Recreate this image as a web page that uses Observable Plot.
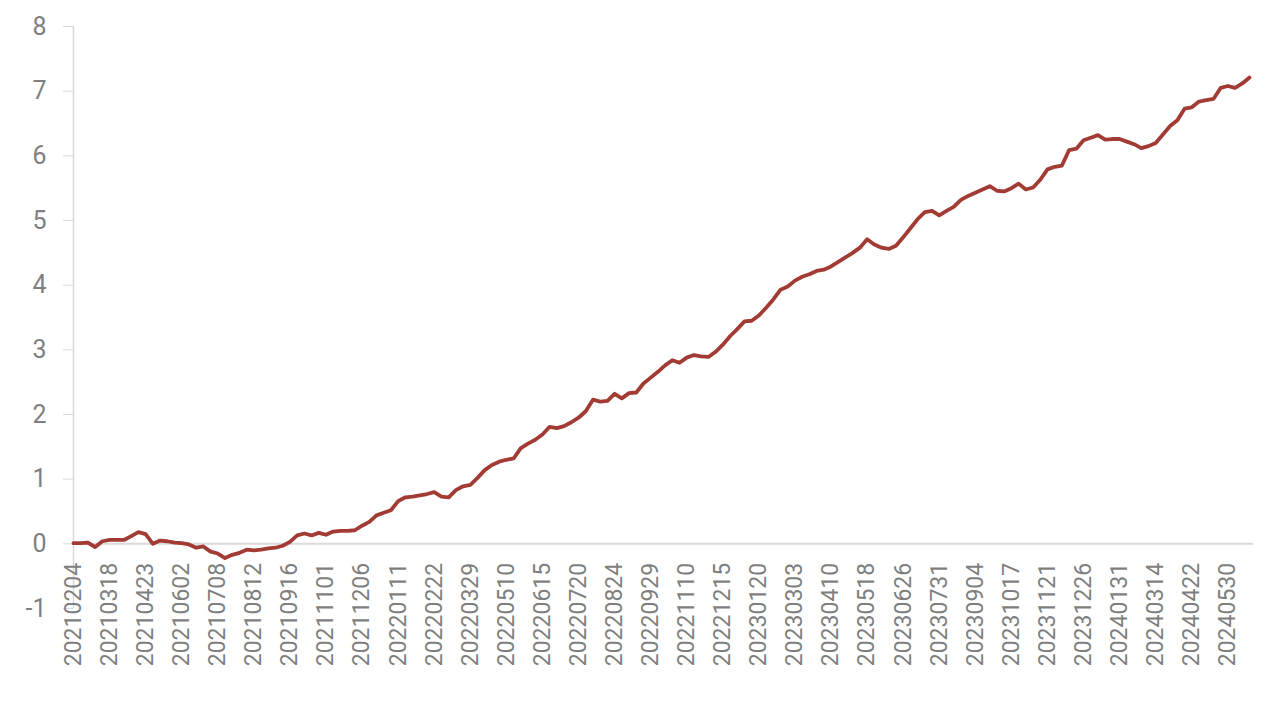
<!DOCTYPE html>
<html>
<head>
<meta charset="utf-8">
<script src="https://cdn.jsdelivr.net/npm/d3@7"></script>
<script src="https://cdn.jsdelivr.net/npm/@observablehq/plot@0.6"></script>
<style>
  html, body { margin: 0; padding: 0; background: #fff; }
  #chart { width: 1272px; height: 705px; }
</style>
</head>
<body>
<div id="chart"></div>
<script>
// Tick labels (every 5th observation)
const tickLabels = [
  "20210204","20210318","20210423","20210602","20210708","20210812","20210916",
  "20211101","20211206","20220111","20220222","20220329","20220510","20220615",
  "20220720","20220824","20220929","20221110","20221215","20230120","20230303",
  "20230410","20230518","20230626","20230731","20230904","20231017","20231121",
  "20231226","20240131","20240314","20240422","20240530"
];
const labelStep = 5;

// Series values
const values = [
  0.01, 0.01, 0.02, -0.05, 0.04, 0.06, 0.06, 0.06, 0.12, 0.18,
  0.15, 0.00, 0.05, 0.04, 0.02, 0.01, -0.01, -0.06, -0.04, -0.12,
  -0.15, -0.22, -0.17, -0.14, -0.09, -0.10, -0.09, -0.07, -0.06, -0.03,
  0.03, 0.13, 0.16, 0.13, 0.17, 0.14, 0.19, 0.20, 0.20, 0.21,
  0.28, 0.34, 0.44, 0.48, 0.52, 0.66, 0.72, 0.73, 0.75, 0.77,
  0.80, 0.73, 0.72, 0.83, 0.89, 0.91, 1.02, 1.14, 1.22, 1.27,
  1.30, 1.32, 1.48, 1.55, 1.61, 1.69, 1.81, 1.79, 1.82, 1.88,
  1.95, 2.05, 2.23, 2.20, 2.21, 2.32, 2.25, 2.33, 2.34, 2.48,
  2.57, 2.66, 2.76, 2.84, 2.80, 2.88, 2.92, 2.90, 2.89, 2.97,
  3.08, 3.21, 3.32, 3.44, 3.45, 3.53, 3.65, 3.78, 3.93, 3.98,
  4.07, 4.13, 4.17, 4.22, 4.24, 4.29, 4.36, 4.43, 4.50, 4.58,
  4.71, 4.63, 4.58, 4.56, 4.61, 4.74, 4.88, 5.02, 5.13, 5.15,
  5.08, 5.15, 5.21, 5.32, 5.38, 5.43, 5.48, 5.53, 5.46, 5.45,
  5.50, 5.57, 5.48, 5.51, 5.63, 5.79, 5.83, 5.85, 6.09, 6.11,
  6.24, 6.28, 6.32, 6.25, 6.26, 6.26, 6.22, 6.18, 6.12, 6.15,
  6.20, 6.33, 6.46, 6.55, 6.73, 6.75, 6.84, 6.86, 6.88, 7.05,
  7.08, 7.05, 7.12, 7.21
];

const yTicks = [-1, 0, 1, 2, 3, 4, 5, 6, 7, 8];

const data = values.map((v, i) => ({i, v}));
const labelData = tickLabels.map((t, k) => ({i: k * labelStep, t}));

const textColor = "#7f7f7f";
const axisColor = "#d9d9d9";

const chart = Plot.plot({
  width: 1272,
  height: 705,
  marginLeft: 73,
  marginRight: 19,
  marginTop: 26,
  marginBottom: 97,
  style: {fontFamily: "Roboto, 'Noto Sans', sans-serif", fontSize: "25px", color: textColor, background: "#fff"},
  x: {domain: [0, values.length - 1], insetRight: 4, axis: null},
  y: {domain: [-1, 8], axis: null},
  marks: [
    Plot.ruleX([0], {stroke: axisColor, strokeWidth: 1.5}),
    Plot.ruleY([0], {stroke: axisColor, strokeWidth: 2}),
    Plot.axisY({
      ticks: yTicks,
      tickFormat: d => String(d),
      tickSize: 10,
      tickPadding: 17,
      stroke: axisColor,
      fill: textColor,
      fontSize: 25,
      label: null
    }),
    Plot.text(labelData, {
      x: "i",
      y: () => 0,
      text: "t",
      rotate: -90,
      textAnchor: "end",
      lineAnchor: "middle",
      dy: 19,
      fill: textColor,
      fontSize: 23
    }),
    Plot.line(data, {x: "i", y: "v", stroke: "#a23b34", strokeWidth: 3.8, strokeLinejoin: "round", strokeLinecap: "round"})
  ]
});

document.getElementById("chart").appendChild(chart);
</script>
</body>
</html>
